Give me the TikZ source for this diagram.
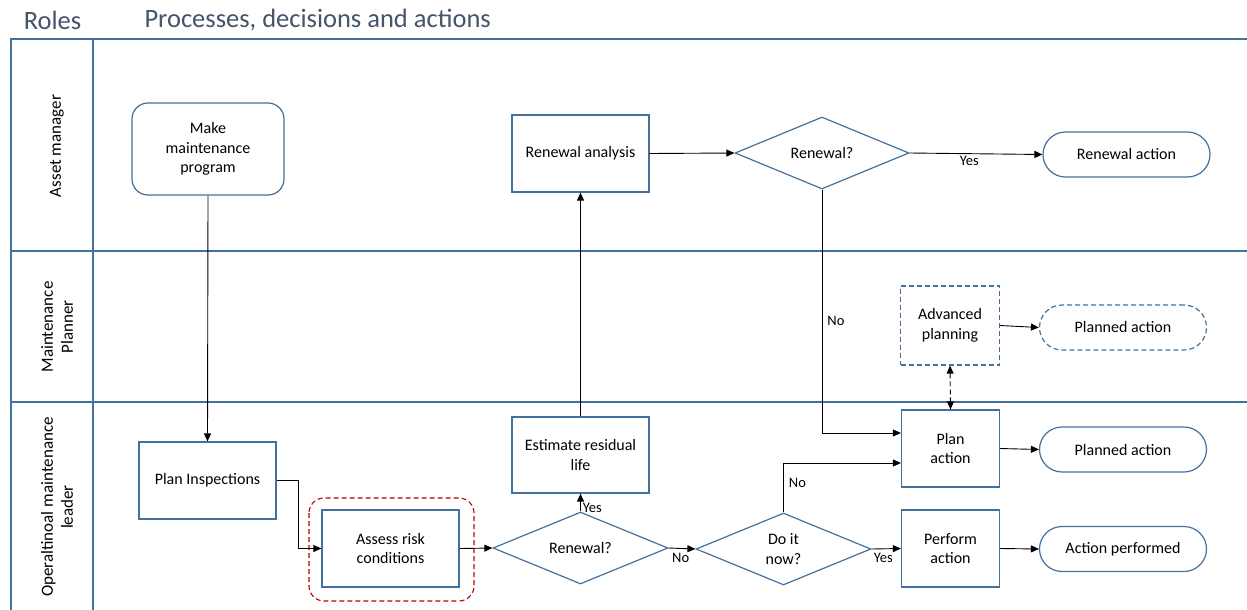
\documentclass[tikz,border=0pt]{standalone}
\usepackage{fontspec}
\setmainfont{Carlito}
\usetikzlibrary{shapes.geometric,arrows.meta,calc}
\definecolor{lanec}{HTML}{41719C}
\definecolor{nodec}{HTML}{41719C}
\definecolor{titlec}{HTML}{44546A}
\definecolor{redc}{HTML}{C00000}
\tikzset{
  base/.style={draw=nodec, line width=1.2pt, inner sep=0pt, align=center, font=\fontsize{16}{19.5}\selectfont},
  procbox/.style={base, rectangle},
  startbox/.style={base, rectangle, rounded corners=16pt},
  decision/.style={base, diamond, aspect=2.4},
  term/.style={base, rectangle, rounded corners=22.5pt, minimum width=167pt, minimum height=45pt},
  dsh/.style={dash pattern=on 5pt off 3pt},
  lanel/.style={draw=lanec, line width=1.6pt},
  arr/.style={draw=black, line width=0.9pt, -{Triangle[length=8pt,width=7pt]}},
  lbl/.style={font=\fontsize{14.5}{16}\selectfont, inner sep=2pt},
  rolelbl/.style={rotate=90, align=center, font=\fontsize{17}{20}\selectfont},
  ttl/.style={text=titlec, font=\fontsize{26.5}{28}\selectfont},
}
\begin{document}
\begin{tikzpicture}[x=1pt,y=-1pt]
\useasboundingbox (0,0) rectangle (1247,610);
\begin{scope}
\clip (0,0) rectangle (1247,610);
% titles
\node[ttl] (troles) at (52.5,20) {Roles};
\node[ttl, anchor=west] (tproc) at (141,20) {Processes, decisions and actions};
% lanes
\draw[lanel] (1250,39) -- (11,39) -- (11,612);
\draw[lanel] (93,39) -- (93,612);
\draw[lanel] (11,251) -- (1250,251);
\draw[lanel] (11,402) -- (1250,402);
\node[rolelbl] (r1) at (57,146) {Asset manager};
\node[rolelbl] (r2) at (57,327) {Maintenance\\Planner};
\node[rolelbl] (r3) at (57,507) {Operaltinoal maintenance\\leader};

% nodes
\node[startbox, minimum width=152pt, minimum height=92pt] (mmp) at (208,149) {Make\\maintenance\\program};
\node[procbox, minimum width=137pt, minimum height=77pt] (pi) at (207.5,480.5) {Plan Inspections};
\draw[redc, dsh, line width=1.1pt, rounded corners=15pt] (309,498) rectangle (474,601);
\node[procbox, minimum width=137pt, minimum height=77pt] (arc) at (390.5,548.5) {Assess risk\\conditions};
\node[decision, minimum width=175pt, minimum height=72pt] (ren1) at (580.5,548) {Renewal?};
\node[procbox, minimum width=137pt, minimum height=76pt] (erl) at (580.5,455) {Estimate residual\\life};
\node[procbox, minimum width=137pt, minimum height=77pt] (ra) at (580.5,153.5) {Renewal analysis};
\node[decision, minimum width=174pt, minimum height=72pt] (ren2) at (822,153) {Renewal?};
\node[term] (rac) at (1126.5,154.5) {Renewal action};
\node[decision, minimum width=175pt, minimum height=72pt] (din) at (783.5,549) {Do it\\now?};
\node[procbox, dsh, minimum width=99pt, minimum height=79pt] (ap) at (950,325.5) {Advanced\\planning};
\node[procbox, minimum width=98pt, minimum height=77pt] (pa) at (950.5,448.5) {Plan\\action};
\node[procbox, minimum width=98pt, minimum height=77pt] (pf) at (950.5,548.5) {Perform\\action};
\node[term, dsh] (pad) at (1123,327.5) {Planned action};
\node[term] (pas) at (1123,449.5) {Planned action};
\node[term] (apf) at (1123,549) {Action performed};

% connectors
\draw[arr] (mmp.south) -- (pi.north);
\draw[arr] (pi.east) -- ++(22,0) |- (arc.west);
\draw[arr] (arc.east) -- (ren1.west);
\draw[arr] (ren1.north) -- node[lbl, anchor=west, pos=0.2] (y1) {Yes} (erl.south);
\draw[arr] (erl.north) -- (ra.south);
\draw[arr] (ra.east) -- (ren2.west);
\draw[arr] (ren2.east) -- node[lbl, anchor=north, pos=0.45] (y2) {Yes} (rac.west);
\draw[arr] (ren2.south) |- node[lbl, anchor=west, pos=0.27, xshift=3pt] (n1) {No} ([yshift=15.5pt]pa.west);
\draw[arr] (ren1.east) -- node[lbl, anchor=north, pos=0.45, yshift=-2pt] (n2) {No} (din.west);
\draw[arr] (din.north) |- node[lbl, anchor=west, pos=0.3, xshift=3pt] (n3) {No} ([yshift=-14.5pt]pa.west);
\draw[arr] (din.east) -- node[lbl, anchor=north, pos=0.4, yshift=-2pt] (y3) {Yes} (pf.west);
\draw[arr] (pa.east) -- (pas.west);
\draw[arr] (pf.east) -- (apf.west);
\draw[arr] (ap.east) -- (pad.west);
\draw[draw=black, line width=0.9pt, dsh, {Triangle[length=8pt,width=7pt]}-{Triangle[length=8pt,width=7pt]}] (ap.south) -- (pa.north);
\end{scope}
\end{tikzpicture}
\end{document}
